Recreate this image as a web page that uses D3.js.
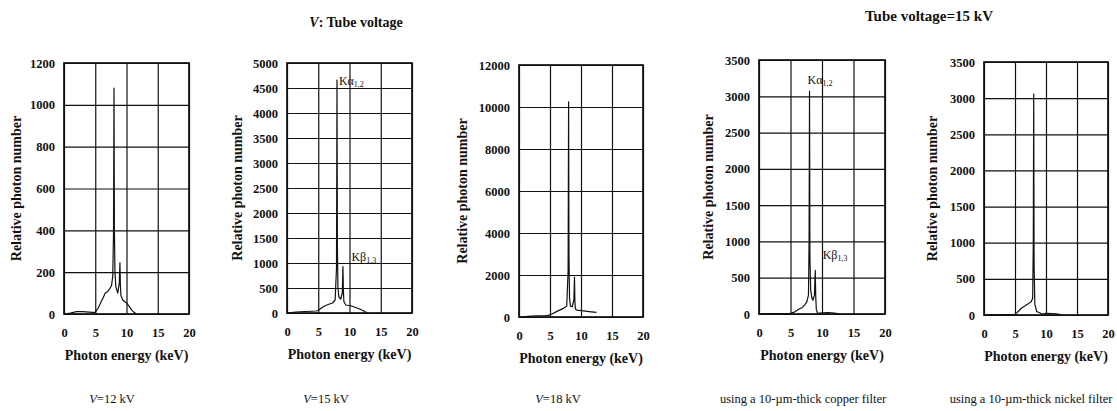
<!DOCTYPE html>
<html lang="en">
<head>
    <meta charset="UTF-8">
    <title>X-ray spectra: tube voltage and filters</title>

    <script src="https://d3js.org/d3.v7.min.js"></script>

    <style>
        body {
            margin: 0;
            background: #fff;
        }

        svg text {
            font-family: "Liberation Serif", "Times New Roman", serif;
            fill: #111;
        }

        .tick text {
            font-size: 12.5px;
            font-weight: bold;
        }

        .axis-title {
            font-size: 14px;
            font-weight: bold;
        }

        .caption {
            font-size: 12.5px;
        }

        .peak-label {
            font-size: 12px;
        }
    </style>

    <script>

        // photon energy ticks (keV), same for every panel
        const xTicks = [0, 5, 10, 15, 20];

        // V = 12 kV
        const energy12 = [0, 0.5, 1, 1.5, 2, 2.5, 3, 3.5, 4, 4.5, 5, 5.5, 6, 6.3, 6.6, 7, 7.3, 7.6, 7.8, 7.92, 8.0, 8.06, 8.15, 8.3, 8.6, 8.85, 8.95, 9.02, 9.1, 9.4, 10, 10.4, 10.8, 11.2, 11.6];
        const counts12 = [0, 2, 4, 8, 11, 12, 11, 10, 9, 8, 8, 30, 62, 80, 100, 108, 120, 135, 180, 380, 1080, 420, 200, 130, 100, 150, 245, 140, 90, 67, 53, 38, 20, 8, 0];
        const yTicks12 = [0, 200, 400, 600, 800, 1000, 1200];

        // V = 15 kV
        const energy15 = [0, 1, 2, 3, 4, 4.7, 5.1, 5.6, 6.2, 6.8, 7.3, 7.7, 7.92, 8.0, 8.06, 8.15, 8.3, 8.6, 8.85, 8.95, 9.02, 9.1, 9.4, 10.2, 11, 11.7, 12.3, 12.8];
        const counts15 = [0, 15, 25, 30, 35, 40, 60, 110, 150, 180, 200, 260, 900, 4660, 1400, 500, 320, 280, 400, 930, 450, 230, 160, 145, 110, 75, 40, 0];
        const yTicks15 = [0, 500, 1000, 1500, 2000, 2500, 3000, 3500, 4000, 4500, 5000];

        // V = 18 kV
        const energy18 = [0, 1, 2, 3, 4, 4.7, 5.3, 6.2, 7.15, 7.7, 7.92, 8.0, 8.06, 8.15, 8.3, 8.6, 8.85, 8.95, 9.02, 9.1, 9.3, 10.1, 11.3, 12.5];
        const counts18 = [0, 20, 40, 50, 60, 80, 140, 280, 410, 520, 2200, 10250, 3000, 900, 520, 490, 800, 1900, 700, 380, 330, 300, 260, 220];
        const yTicks18 = [0, 2000, 4000, 6000, 8000, 10000, 12000];

        // 15 kV, 10-um copper filter
        const energyCu = [0, 1, 2, 3, 4, 5, 5.7, 6.3, 6.8, 7.3, 7.6, 7.85, 7.95, 8.02, 8.08, 8.2, 8.4, 8.55, 8.8, 8.93, 9.0, 9.1, 9.3, 10, 11, 12, 12.8];
        const countsCu = [0, 3, 5, 6, 6, 8, 30, 65, 87, 130, 170, 260, 1000, 3070, 800, 330, 220, 190, 260, 600, 250, 60, 10, 15, 20, 12, 0];
        const yTicksCu = [0, 500, 1000, 1500, 2000, 2500, 3000, 3500];

        // 15 kV, 10-um nickel filter
        const energyNi = [0, 1, 2, 3, 4, 5, 5.2, 5.6, 6.0, 6.4, 6.8, 7.2, 7.6, 7.85, 7.95, 8.02, 8.08, 8.2, 8.5, 8.9, 9.3, 10, 11, 12, 12.6];
        const countsNi = [0, 3, 5, 6, 6, 10, 23, 55, 93, 115, 138, 160, 184, 230, 1000, 3055, 700, 150, 46, 35, 14, 22, 20, 12, 0];
        const yTicksNi = [0, 500, 1000, 1500, 2000, 2500, 3000, 3500];

        const captionVoltages = ["12 kV", "15 kV", "18 kV"];
        const filterCaptions = ["using a 10-\u00b5m-thick copper filter", "using a 10-\u00b5m-thick nickel filter"];

        const zipSeries = (xs, ys) => xs.map((x, i) => [x, ys[i]]);

        // plot boxes
        const panels = [
            {box: [64, 63, 189, 314], data: zipSeries(energy12, counts12), yTicks: yTicks12, titleOffset: 48,
                caption: {voltage: captionVoltages[0], x: 112}},
            {box: [287, 63, 412, 313], data: zipSeries(energy15, counts15), yTicks: yTicks15, titleOffset: 50,
                caption: {voltage: captionVoltages[1], x: 326},
                labels: [{a: true, e: 8.3, v: 4650}, {a: false, e: 10.3, v: 1120}]},
            {box: [519, 65, 643, 317], data: zipSeries(energy18, counts18), yTicks: yTicks18, titleOffset: 57,
                caption: {voltage: captionVoltages[2], x: 558}},
            {box: [759, 60, 885, 314], data: zipSeries(energyCu, countsCu), yTicks: yTicksCu, titleOffset: 51,
                caption: {text: filterCaptions[0], x: 803},
                labels: [{a: true, e: 7.7, v: 3230}, {a: false, e: 10.1, v: 820}]},
            {box: [984, 62, 1108, 315], data: zipSeries(energyNi, countsNi), yTicks: yTicksNi, titleOffset: 52,
                caption: {text: filterCaptions[1], x: 1031}}
        ];

        document.addEventListener("DOMContentLoaded", () => makeGraph());

        function makeGraph() {
            const svg = d3.select("#chart");

            // group titles
            const t1 = svg.append("text").attr("class", "axis-title")
                .attr("x", 356).attr("y", 27).attr("text-anchor", "middle").style("font-size", "14px");
            t1.append("tspan").style("font-style", "italic").text("V");
            t1.append("tspan").text(": Tube voltage");

            svg.append("text").attr("class", "axis-title")
                .attr("x", 929).attr("y", 21).attr("text-anchor", "middle").style("font-size", "15px")
                .text("Tube voltage=15 kV");

            panels.forEach(p => drawPanel(svg, p));
        }

        function drawPanel(svg, p) {
            const [left, top, right, bottom] = p.box;
            const width = right - left;
            const height = bottom - top;
            const yMax = p.yTicks[p.yTicks.length - 1];

            const xScale = d3.scaleLinear().domain([0, 20]).range([0, width]);
            const yScale = d3.scaleLinear().domain([0, yMax]).range([height, 0]);

            const g = svg.append("g").attr("transform", `translate(${left},${top})`);

            // grid
            g.append("g").attr("class", "grid")
                .call(d3.axisLeft(yScale).tickValues(p.yTicks).tickSize(-width).tickFormat(""))
                .call(s => s.select(".domain").remove())
                .selectAll("line").attr("stroke", "#111").attr("stroke-width", 1.2);
            g.append("g").attr("class", "grid").attr("transform", `translate(0,${height})`)
                .call(d3.axisBottom(xScale).tickValues(xTicks).tickSize(-height).tickFormat(""))
                .call(s => s.select(".domain").remove())
                .selectAll("line").attr("stroke", "#111").attr("stroke-width", 1.2);

            // tick labels
            g.append("g")
                .call(d3.axisLeft(yScale).tickValues(p.yTicks).tickSize(0).tickPadding(9).tickFormat(d3.format("d")))
                .call(s => s.select(".domain").remove());
            g.append("g").attr("transform", `translate(0,${height})`)
                .call(d3.axisBottom(xScale).tickValues(xTicks).tickSize(0).tickPadding(14).tickFormat(d3.format("d")))
                .call(s => s.select(".domain").remove());

            // spectrum
            const line = d3.line().x(d => xScale(d[0])).y(d => yScale(d[1]));
            g.append("path").datum(p.data)
                .attr("d", line)
                .attr("fill", "none")
                .attr("stroke", "#111")
                .attr("stroke-width", 1.2)
                .attr("stroke-linejoin", "round");

            // frame
            g.append("rect").attr("width", width).attr("height", height)
                .attr("fill", "none").attr("stroke", "#111").attr("stroke-width", 1.7);

            // peak labels
            (p.labels || []).forEach(l => {
                const t = g.append("text").attr("class", "peak-label")
                    .attr("x", xScale(l.e)).attr("y", yScale(l.v)).attr("dy", "0.35em");
                t.append("tspan").text(l.a ? "K\u03b1" : "K\u03b2");
                t.append("tspan").style("font-size", "8px").attr("dy", "2").text(l.a ? "1,2" : "1,3");
            });

            // axis titles
            g.append("text").attr("class", "axis-title")
                .attr("transform", `translate(${-p.titleOffset},${height / 2}) rotate(-90)`)
                .attr("text-anchor", "middle").attr("dy", "0.35em")
                .text("Relative photon number");
            g.append("text").attr("class", "axis-title")
                .attr("x", width / 2).attr("y", height + 46).attr("text-anchor", "middle")
                .text("Photon energy (keV)");

            // caption under each panel
            const c = svg.append("text").attr("class", "caption")
                .attr("x", p.caption.x).attr("y", 403).attr("text-anchor", "middle");
            if (p.caption.voltage) {
                c.append("tspan").style("font-style", "italic").text("V");
                c.append("tspan").text("=" + p.caption.voltage);
            } else {
                c.text(p.caption.text);
            }
        }

    </script>
</head>
<body>
    <svg id="chart" width="1117" height="411"></svg>
</body>
</html>
